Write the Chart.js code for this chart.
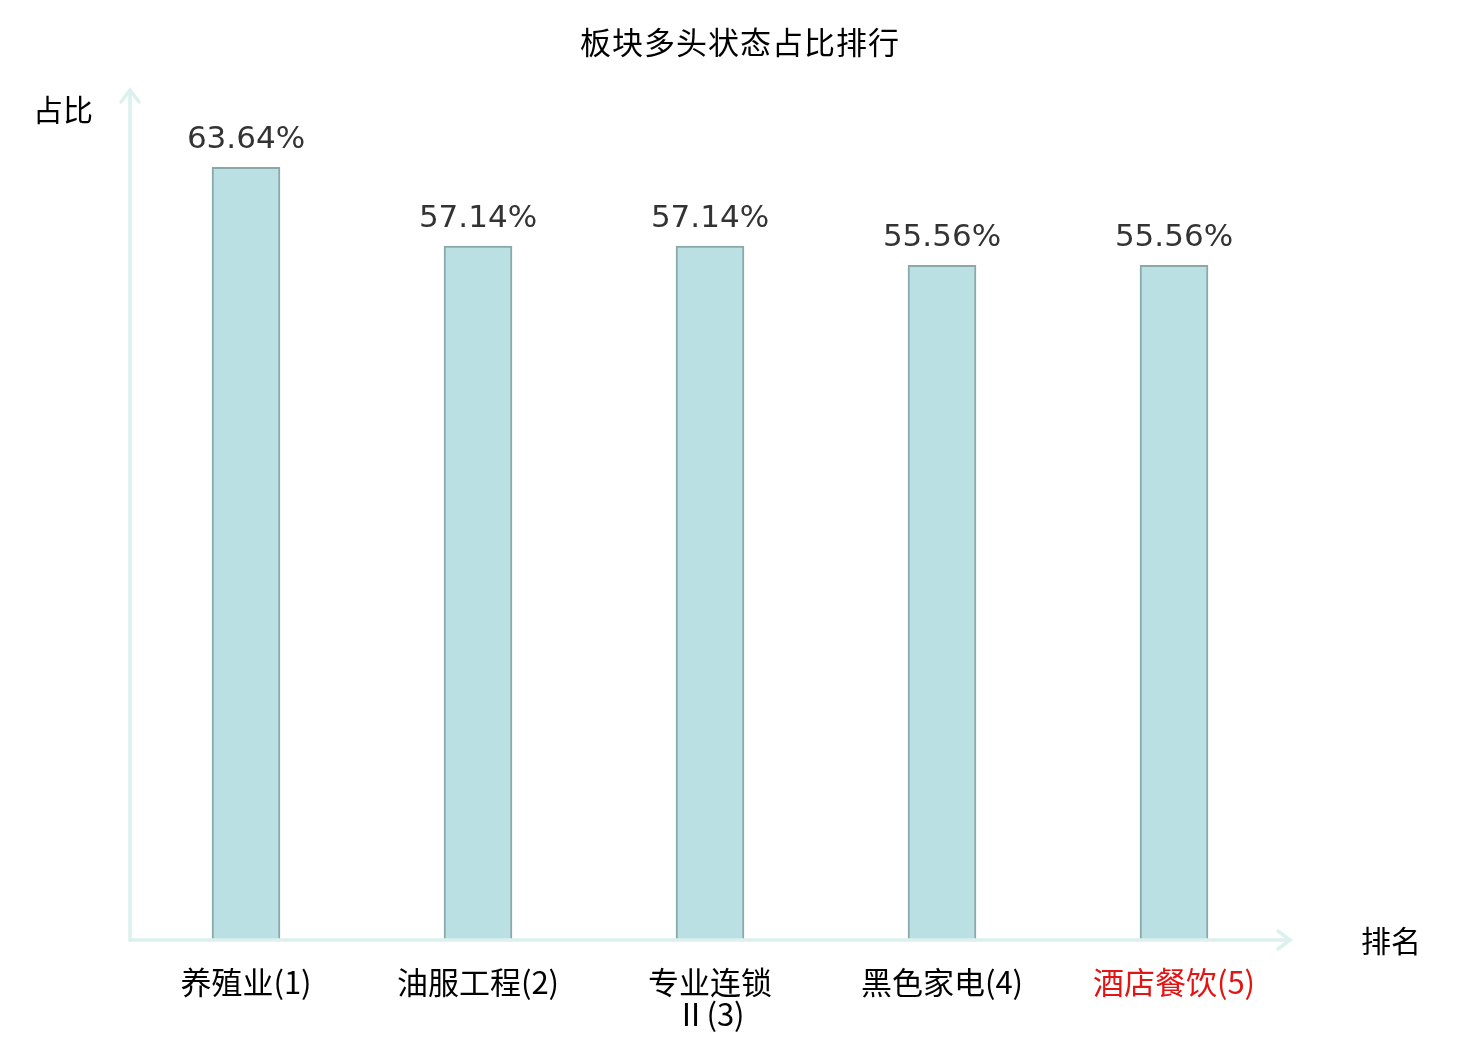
<!DOCTYPE html>
<html>
<head>
<meta charset="utf-8">
<script src="https://cdn.jsdelivr.net/npm/chart.js@4.4.1/dist/chart.umd.min.js"></script>
<style>
  html, body { margin: 0; padding: 0; background: #fff; }
  #wrap { width: 1480px; height: 1040px; }
</style>
</head>
<body>
<div id="wrap"><canvas id="barChart" width="1480" height="1040"></canvas></div>
<script>
// data
const categories = ['养殖业(1)', '油服工程(2)', ['专业连锁', 'Ⅱ(3)'], '黑色家电(4)', '酒店餐饮(5)']
const shares = [63.64, 57.14, 57.14, 55.56, 55.56]
const labelColors = ['#000', '#000', '#000', '#000', '#e31414']
const chartTitle = '板块多头状态占比排行'
const yName = '占比'
const xName = '排名'

const cjk = '"Noto Sans CJK SC", "Noto Sans", sans-serif'

// axis arrows, names, title and value labels
const decorations = {
    id: 'decorations',
    afterDatasetsDraw(chart) {
        const ctx = chart.ctx
        const area = chart.chartArea
        ctx.save()
        ctx.strokeStyle = '#dcf1ee'
        ctx.lineWidth = 3.5
        ctx.lineCap = 'round'
        // y axis
        ctx.beginPath()
        ctx.moveTo(area.left, area.bottom)
        ctx.lineTo(area.left, area.top)
        ctx.moveTo(area.left - 9, area.top + 12)
        ctx.lineTo(area.left, area.top)
        ctx.lineTo(area.left + 9, area.top + 12)
        ctx.stroke()
        // x axis
        ctx.beginPath()
        ctx.moveTo(area.left, area.bottom)
        ctx.lineTo(area.right, area.bottom)
        ctx.moveTo(area.right - 12, area.bottom - 9)
        ctx.lineTo(area.right, area.bottom)
        ctx.lineTo(area.right - 12, area.bottom + 9)
        ctx.stroke()

        ctx.fillStyle = '#000'
        ctx.textAlign = 'center'
        ctx.textBaseline = 'middle'
        ctx.font = '31px ' + cjk
        ctx.letterSpacing = '1px'
        ctx.fillText(chartTitle, 740, 42)
        ctx.letterSpacing = '0px'
        ctx.font = '30px ' + cjk
        ctx.fillText(yName, 63, 110)
        ctx.fillText(xName, 1391, 941)

        // value labels
        ctx.fillStyle = '#333'
        ctx.font = '31px "DejaVu Sans", sans-serif'
        const meta = chart.getDatasetMeta(0)
        meta.data.forEach((bar, i) => {
            ctx.fillText(shares[i].toFixed(2) + '%', bar.x, bar.y - 27)
        })
        ctx.restore()
    }
}

const barChart = new Chart(
    document.getElementById('barChart').getContext('2d'), {
    type: 'bar',
    data: {
        labels: categories,
        datasets: [{
            data: shares,
            backgroundColor: '#bbe0e3',
            borderColor: '#8aa8a8',
            borderWidth: 2,
            barThickness: 68
        }]
    },
    options: {
        responsive: false,
        animation: false,
        layout: {
            padding: { left: 130, right: 190, top: 90, bottom: 0 }
        },
        plugins: {
            legend: { display: false },
            title: { display: false },
            tooltip: { enabled: false }
        },
        scales: {
            x: {
                grid: { display: false, drawTicks: false },
                border: { display: false },
                ticks: {
                    padding: 26,
                    maxRotation: 0,
                    autoSkip: false,
                    font: { size: 31, family: cjk, lineHeight: 1.03 },
                    color: ctx => labelColors[ctx.index]
                },
                afterFit: scale => { scale.height = 100 }
            },
            y: {
                display: false,
                min: 0,
                max: 70
            }
        }
    },
    plugins: [decorations]
})
</script>
</body>
</html>
